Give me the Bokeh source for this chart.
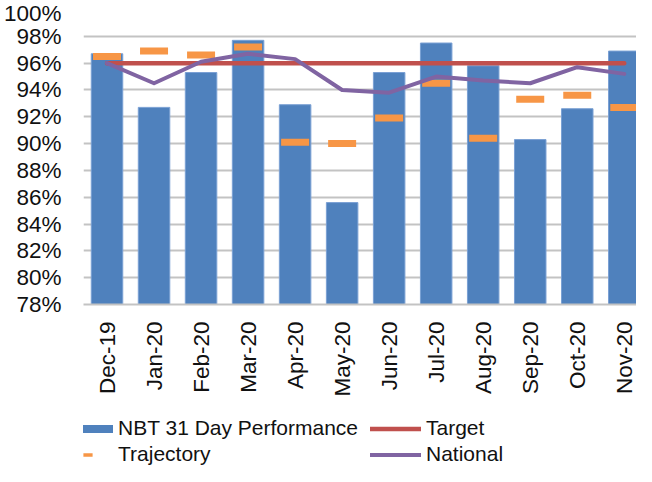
import math
from bokeh.plotting import figure
from bokeh.layouts import column
from bokeh.models import Range1d, FixedTicker, Legend, LegendItem, PrintfTickFormatter
from bokeh.embed import file_html
from bokeh.resources import INLINE

months = ["Dec-19", "Jan-20", "Feb-20", "Mar-20", "Apr-20", "May-20",
          "Jun-20", "Jul-20", "Aug-20", "Sep-20", "Oct-20", "Nov-20"]
nbt_31_day = [96.7, 92.7, 95.3, 97.7, 92.9, 85.6, 95.3, 97.5, 95.8, 90.3, 92.6, 96.9]
target = [96.0, 96.0, 96.0, 96.0, 96.0, 96.0, 96.0, 96.0, 96.0, 96.0, 96.0, 96.0]
trajectory = [96.5, 96.9, 96.6, 97.2, 90.1, 90.0, 91.9, 94.5, 90.4, 93.3, 93.6, 92.7]
national = [96.0, 94.5, 96.1, 96.7, 96.3, 94.0, 93.8, 95.0, 94.7, 94.5, 95.7, 95.2]
y_ticks = [78, 80, 82, 84, 86, 88, 90, 92, 94, 96, 98, 100]

Y_MIN, Y_MAX = 78, 100
FONT = "Liberation Sans"
BLUE, RED, ORANGE, PURPLE = "#4f81bd", "#c0504d", "#f79646", "#8064a2"
xs = list(range(len(months)))

p = figure(width=636, height=414, output_backend="svg", toolbar_location=None,
           x_range=Range1d(-0.5, 11.26), y_range=Range1d(Y_MIN, Y_MAX),
           min_border_left=82, min_border_right=0, min_border_top=9,
           min_border_bottom=110)
p.outline_line_color = None
p.background_fill_color = "white"
p.border_fill_color = "white"

# grid
p.xgrid.visible = False
p.ygrid.ticker = FixedTicker(ticks=y_ticks)
p.ygrid.grid_line_color = "#c3c3c3"
p.ygrid.grid_line_width = 2

# y axis
p.yaxis.ticker = FixedTicker(ticks=y_ticks)
p.yaxis.formatter = PrintfTickFormatter(format="%d%%")
p.yaxis.axis_line_color = None
p.yaxis.major_tick_line_color = None
p.yaxis.minor_tick_line_color = None
p.yaxis.major_tick_out = 0
p.yaxis.minor_tick_out = 0
p.yaxis.major_label_standoff = 22
p.yaxis.major_label_text_font = FONT
p.yaxis.major_label_text_font_size = "22.5px"
p.yaxis.major_label_text_color = "#111111"

# x axis
p.xaxis.ticker = FixedTicker(ticks=xs)
p.xaxis.major_label_overrides = {i: m for i, m in zip(xs, months)}
p.xaxis.major_label_orientation = math.pi / 2
p.xaxis.axis_line_color = "#c3c3c3"
p.xaxis.axis_line_width = 2
p.xaxis.major_tick_line_color = None
p.xaxis.minor_tick_line_color = None
p.xaxis.major_tick_out = 0
p.xaxis.minor_tick_out = 0
p.xaxis.major_label_standoff = 17
p.xaxis.major_label_text_font = FONT
p.xaxis.major_label_text_font_size = "22.5px"
p.xaxis.major_label_text_color = "#111111"

# series
p.vbar(x=xs, top=nbt_31_day, bottom=Y_MIN, width=0.67,
       fill_color=BLUE, line_color="#7aa0d4", line_width=1)
p.line(xs, target, line_color=RED, line_width=4.5, line_cap="round")
p.scatter(xs, trajectory, marker="dash", size=28, line_width=7, line_color=ORANGE)
p.line(xs, national, line_color=PURPLE, line_width=4,
       line_cap="round", line_join="round")

# legend strip below the chart
lg = figure(width=636, height=52, output_backend="svg", toolbar_location=None,
            x_range=Range1d(0, 1), y_range=Range1d(0, 1),
            x_axis_location=None, y_axis_location=None,
            min_border=0, min_border_left=0, min_border_right=0,
            min_border_top=0, min_border_bottom=0)
lg.grid.visible = False
lg.outline_line_color = None
lg.background_fill_color = "white"
lg.border_fill_color = "white"

nan = float("nan")
sw_bar = lg.line([0], [nan], line_color=BLUE, line_width=8)
sw_tgt = lg.line([0], [nan], line_color=RED, line_width=4.5, line_cap="round")
sw_traj = lg.scatter([0], [nan], marker="dash", size=10, line_width=3.5,
                     line_color=ORANGE)
sw_nat = lg.line([0], [nan], line_color=PURPLE, line_width=4, line_cap="round")

legend = Legend(items=[
    LegendItem(label="NBT 31 Day Performance", renderers=[sw_bar]),
    LegendItem(label="Trajectory", renderers=[sw_traj]),
    LegendItem(label="Target", renderers=[sw_tgt]),
    LegendItem(label="National", renderers=[sw_nat]),
], ncols=2, location=(-21, 0), glyph_width=51, glyph_height=23,
   label_standoff=5, spacing=2, padding=0, margin=0,
   border_line_alpha=0, background_fill_alpha=0,
   label_text_font=FONT, label_text_font_size="21px",
   label_text_color="#111111", label_width=250, label_height=23)
lg.add_layout(legend, "center")

layout = column(p, lg, spacing=0)
open("out.html", "w").write(file_html(layout, INLINE))
